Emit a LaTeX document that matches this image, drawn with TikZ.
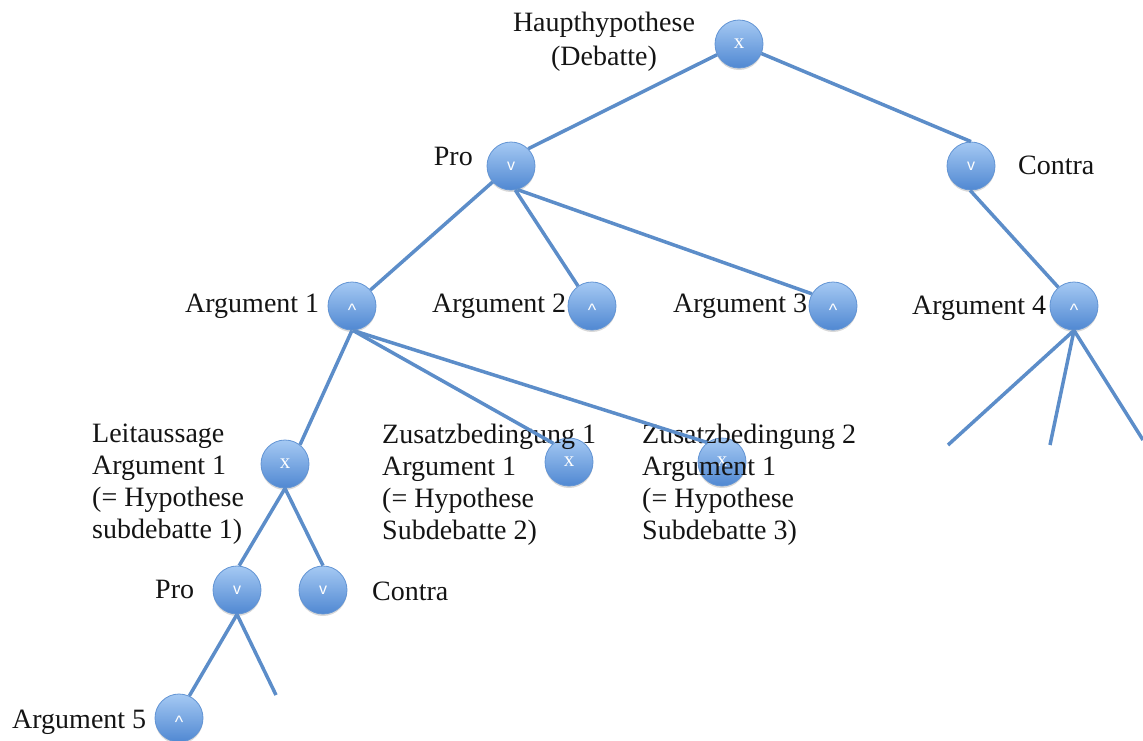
\documentclass[tikz,border=0pt]{standalone}
\usepackage{fontspec}
\setmainfont{Liberation Serif}
\newfontfamily\symfont{Liberation Sans}
\usetikzlibrary{shadows}
\definecolor{linkblue}{RGB}{92,141,201}
\definecolor{ctop}{RGB}{165,201,243}
\definecolor{cbot}{RGB}{80,136,210}
\definecolor{cborder}{RGB}{98,148,212}
\definecolor{txt}{RGB}{20,20,20}
\newcommand\symX{{\fontsize{21}{21}\selectfont x}}
\newcommand\symV{{\symfont\fontsize{16}{16}\selectfont v}}
\newcommand\symW{\smash{\raisebox{-10pt}{\symfont\fontsize{18}{18}\selectfont\textasciicircum}}}
\begin{document}
\begin{tikzpicture}[x=1pt,y=-1pt,
  bub/.style={circle, minimum size=48pt, inner sep=0pt, top color=ctop, bottom color=cbot,
    draw=cborder, line width=0.8pt,
    drop shadow={opacity=0.3, shadow xshift=0pt, shadow yshift=-2pt}, text=white},
  lbl/.style={inner sep=0pt, font=\fontsize{28}{32}\selectfont, text=txt},
  link/.style={draw=linkblue, line width=3.5pt},
]
\path[use as bounding box] (0,0) rectangle (1143,740);

% circles
\node[bub] (h)   at (739,44)  {\symX};
\node[bub] (pro) at (511,166) {\symV};
\node[bub] (con) at (971,166) {\symV};
\node[bub] (a1)  at (352,306) {\symW};
\node[bub] (a2)  at (592,306) {\symW};
\node[bub] (a3)  at (833,306) {\symW};
\node[bub] (a4)  at (1074,306) {\symW};
\node[bub] (lt)  at (285,464) {\symX};
\node[bub] (z1)  at (569,462) {\symX};
\node[bub] (z2)  at (722,462) {\symX};
\node[bub] (p2)  at (237,590) {\symV};
\node[bub] (c2)  at (323,590) {\symV};
\node[bub] (a5)  at (179,718) {\symW};

% texts
\node[lbl, anchor=north, align=center, font=\fontsize{28}{34}\selectfont] (th) at (604,12) {Haupthypothese\\(Debatte)};
\node[lbl, anchor=base east] (tpro) at (473,165) {Pro};
\node[lbl, anchor=base west] (tcon) at (1018,174) {Contra};
\node[lbl, anchor=base west] (ta1) at (185,312) {Argument 1};
\node[lbl, anchor=base west] (ta2) at (432,312) {Argument 2};
\node[lbl, anchor=base west] (ta3) at (673,312) {Argument 3};
\node[lbl, anchor=base west] (ta4) at (912,314) {Argument 4};
\node[lbl, anchor=north west, align=left] (tlt) at (92,424) {Leitaussage\\Argument 1\\(= Hypothese\\subdebatte 1)};
\node[lbl, anchor=north west, align=left] (tz1) at (382,424) {Zusatzbedingung 1\\Argument 1\\(= Hypothese\\Subdebatte 2)};
\node[lbl, anchor=north west, align=left] (tz2) at (642,424) {Zusatzbedingung 2\\Argument 1\\(= Hypothese\\Subdebatte 3)};
\node[lbl, anchor=base west] (tp2) at (155,598) {Pro};
\node[lbl, anchor=base west] (tc2) at (372,600) {Contra};
\node[lbl, anchor=base west] (ta5) at (12,728) {Argument 5};

% free ends
\coordinate (e1) at (948,445);
\coordinate (e2) at (1050,445);
\coordinate (e3) at (1143,440);
\coordinate (e4) at (276,695);

% connectors
\draw[link] (h.206) -- (pro.45);
\draw[link] (h.-23) -- (con.north);
\draw[link] (pro.221) -- (a1.41);
\draw[link] (pro.-80) -- (a2.125);
\draw[link] (pro.-75) -- (a3.150);
\draw[link] (con.-92) -- (a4.130);
\draw[link] (a4.south) -- (e1);
\draw[link] (a4.south) -- (e2);
\draw[link] (a4.south) -- (e3);
\draw[link] (a1.south) -- (lt.52);
\draw[link] (a1.-88) -- (z1.130);
\draw[link] (a1.-88) -- (z2.127);
\draw[link] (lt.south) -- (p2.85);
\draw[link] (lt.south) -- (c2.north);
\draw[link] (p2.south) -- (a5.65);
\draw[link] (p2.south) -- (e4);
\end{tikzpicture}
\end{document}
